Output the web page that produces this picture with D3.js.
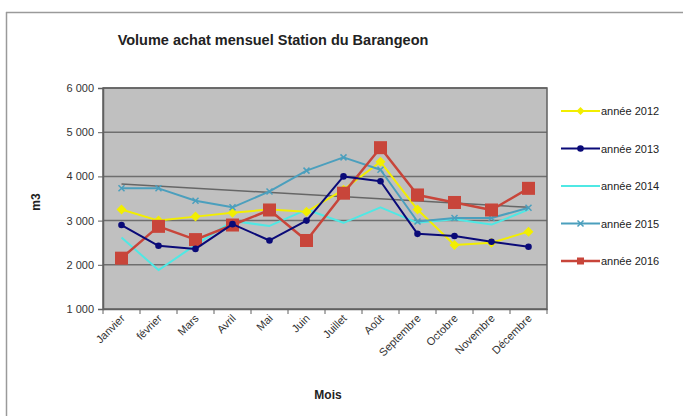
<!DOCTYPE html>
<html><head><meta charset="utf-8">
<script src="https://cdn.jsdelivr.net/npm/d3@7"></script>
<style>body{margin:0;background:#fff;}svg{display:block;font-family:"Liberation Sans",Arial,sans-serif;}</style>
</head><body>
<svg id="c" width="683" height="416"></svg>
<script>
const months = ["Janvier","février","Mars","Avril","Mai","Juin","Juillet","Août","Septembre","Octobre","Novembre","Décembre"];
const yTicks = [1000,2000,3000,4000,5000,6000];
const s2012 = [3250,3000,3090,3180,3250,3200,3700,4330,3250,2450,2500,2750];
const s2013 = [2900,2430,2360,2920,2550,3000,4000,3890,2700,2650,2520,2410];
const s2014 = [2620,1880,2450,2990,2880,3250,2950,3300,2950,3030,2910,3250];
const s2015 = [3730,3730,3450,3300,3660,4130,4430,4150,2980,3060,3060,3290];
const s2016 = [2150,2870,2570,2900,3240,2550,3620,4650,3580,3410,3240,3730];
const trendEnds = [3830,3300];
const seriesNames = ["année 2012","année 2013","année 2014","année 2015","année 2016"];

const series = [
  {name:seriesNames[0], values:s2012, color:"#f2ee00", width:2, marker:"diamond", msize:5},
  {name:seriesNames[1], values:s2013, color:"#0a0a78", width:2, marker:"circle", msize:3.3},
  {name:seriesNames[2], values:s2014, color:"#4fe8e4", width:2, marker:"none", msize:0},
  {name:seriesNames[3], values:s2015, color:"#4b9fbd", width:2, marker:"cross", msize:3},
  {name:seriesNames[4], values:s2016, color:"#c8453a", width:2.5, marker:"square", msize:13}
];

const svg = d3.select("#c");
const L=103, T=88, R=547, B=309;

// outer frame
svg.append("line").attr("x1",6).attr("x2",683).attr("y1",12.5).attr("y2",12.5).attr("stroke","#9a9a9a").attr("stroke-width",1.5);
svg.append("line").attr("x1",6.5).attr("x2",6.5).attr("y1",12).attr("y2",416).attr("stroke","#9a9a9a").attr("stroke-width",1.5);

const x = d3.scaleBand().domain(months).range([L,R]);
const y = d3.scaleLinear().domain([1000,6000]).range([B,T]);

svg.append("rect").attr("x",L).attr("y",T).attr("width",R-L).attr("height",B-T).attr("fill","#c0c0c0");

// gridlines
svg.append("g").selectAll("line").data(yTicks.slice(1)).join("line")
  .attr("x1",L).attr("x2",R).attr("y1",d=>y(d)).attr("y2",d=>y(d))
  .attr("stroke","#6e6e6e").attr("stroke-width",1.5);

svg.append("rect").attr("x",L).attr("y",T).attr("width",R-L).attr("height",B-T).attr("fill","none").attr("stroke","#606060").attr("stroke-width",1.5);

// y axis
const ya = svg.append("g").attr("transform",`translate(${L},0)`)
  .call(d3.axisLeft(y).tickValues(yTicks).tickSize(5).tickFormat(d=>d3.format(",")(d).replace(","," ")));
ya.select(".domain").attr("stroke","#606060").attr("stroke-width",1.5);
ya.selectAll(".tick line").attr("stroke","#606060");
ya.selectAll(".tick text").attr("font-size",11).attr("fill","#333").attr("x",-9)
  .attr("font-family","'Liberation Sans',Arial,sans-serif");

// x axis
const xa = svg.append("g").attr("transform",`translate(0,${B})`)
  .call(d3.axisBottom(x).tickSize(0).tickFormat(d=>d));
xa.select(".domain").attr("stroke","#606060").attr("stroke-width",1.5);
xa.selectAll(".tick text").attr("font-size",11).attr("fill","#333")
  .attr("font-family","'Liberation Sans',Arial,sans-serif")
  .attr("text-anchor","end").attr("dy",0).attr("y",0)
  .attr("transform","translate(4,10) rotate(-45)");
svg.append("g").selectAll("line").data(d3.range(months.length+1)).join("line")
  .attr("x1",i=>L+i*x.step()).attr("x2",i=>L+i*x.step()).attr("y1",B).attr("y2",B+5)
  .attr("stroke","#606060").attr("stroke-width",1);

const cx = d=>x(d)+x.bandwidth()/2;

// trend line
svg.append("line").attr("x1",cx(months[0])).attr("x2",cx(months[11]))
  .attr("y1",y(trendEnds[0])).attr("y2",y(trendEnds[1]))
  .attr("stroke","#666").attr("stroke-width",1.5);

const line = d3.line().x((d,i)=>cx(months[i])).y(d=>y(d));
function drawMarker(g, type, size, color, px, py){
  if(type==="diamond") g.append("path").attr("d",`M${px},${py-size}L${px+size},${py}L${px},${py+size}L${px-size},${py}Z`).attr("fill",color);
  else if(type==="circle") g.append("circle").attr("cx",px).attr("cy",py).attr("r",size).attr("fill",color);
  else if(type==="square") g.append("rect").attr("x",px-size/2).attr("y",py-size/2).attr("width",size).attr("height",size).attr("fill",color);
  else if(type==="cross") g.append("path").attr("d",`M${px-size},${py-size}L${px+size},${py+size}M${px-size},${py+size}L${px+size},${py-size}`).attr("stroke",color).attr("stroke-width",1.5);
}
const order=[2,0,3,4,1];
order.forEach(k=>{
  const s=series[k];
  const g=svg.append("g");
  g.append("path").datum(s.values).attr("d",line).attr("fill","none").attr("stroke",s.color).attr("stroke-width",s.width).attr("stroke-linejoin","round");
  s.values.forEach((v,i)=>drawMarker(g,s.marker,s.msize,s.color,cx(months[i]),y(v)));
});

// legend
const lg = svg.append("g");
series.forEach((s,i)=>{
  const ly = 111 + i*37.5;
  lg.append("line").attr("x1",561).attr("x2",600).attr("y1",ly).attr("y2",ly).attr("stroke",s.color).attr("stroke-width",s.width);
  drawMarker(lg,s.marker,s.marker==="square"?7:Math.min(s.msize,4),s.color,580.5,ly);
  lg.append("text").attr("x",601).attr("y",ly+4).attr("font-size",11).attr("fill","#222").text(s.name);
});

// titles
svg.append("text").attr("x",273).attr("y",45).attr("text-anchor","middle").attr("font-size",14.5).attr("font-weight","bold").attr("fill","#222").text("Volume achat mensuel Station du Barangeon");
svg.append("text").attr("x",328).attr("y",399).attr("text-anchor","middle").attr("font-size",12).attr("font-weight","bold").attr("fill","#222").text("Mois");
svg.append("text").attr("transform","translate(40,202) rotate(-90)").attr("text-anchor","middle").attr("font-size",12).attr("font-weight","bold").attr("fill","#222").text("m3");
</script>
</body></html>
